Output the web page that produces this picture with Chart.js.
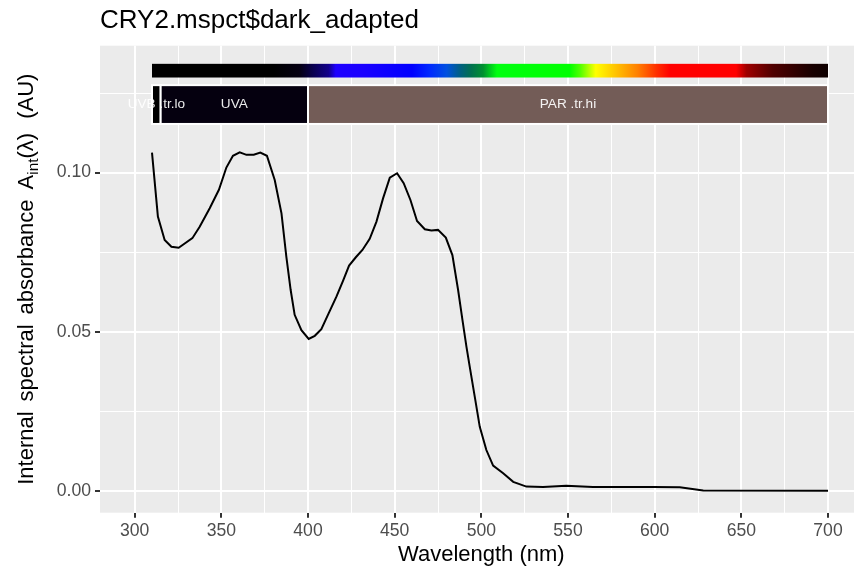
<!DOCTYPE html>
<html lang="en">
<head>
<meta charset="UTF-8">
<title>CRY2.mspct$dark_adapted</title>
<script src="https://cdn.jsdelivr.net/npm/chart.js"></script>
<style>
  html, body { margin: 0; padding: 0; background: #fff; overflow: hidden; }
  #wrap { width: 854px; height: 571px; }
</style>
</head>
<body>
<div id="wrap"><canvas id="chart" width="854" height="571"></canvas></div>
<script>
// spectrum
const wavelengths = [310, 313.4, 317.3, 321.2, 325.4, 333.3, 337.5, 343.3, 348.6, 352.9,
  356.7, 360.6, 364.5, 368.7, 372.5, 376.3, 380.8, 384.7, 387.5, 390.0,
  392.3, 396.2, 400.4, 403.9, 407.7, 411.5, 416.4, 420.2, 423.7, 427.6,
  431.4, 435.6, 439.5, 443.3, 447.2, 451.4, 455.2, 459.1, 462.9, 467.4,
  471.2, 475.0, 479.5, 483.3, 486.6, 489.1, 491.4, 493.3, 496.2, 499.1,
  502.9, 506.8, 512.6, 518.4, 526.0, 535.6, 549.0, 564.4, 599.0, 614.5,
  628.0, 700];
const absorbance = [0.1063, 0.0862, 0.0788, 0.0767, 0.0764, 0.0794, 0.0830, 0.0888, 0.0946, 0.1016,
  0.1053, 0.1064, 0.1056, 0.1056, 0.1063, 0.1053, 0.0977, 0.0872, 0.0736, 0.0631,
  0.0553, 0.0505, 0.0477, 0.0487, 0.0508, 0.0553, 0.0610, 0.0660, 0.0708, 0.0734,
  0.0757, 0.0792, 0.0846, 0.0919, 0.0984, 0.0998, 0.0967, 0.0914, 0.0848, 0.0822,
  0.0818, 0.0820, 0.0796, 0.0741, 0.0631, 0.0537, 0.0453, 0.0390, 0.0296, 0.0201,
  0.0128, 0.0079, 0.0055, 0.0028, 0.0013, 0.0012, 0.0016, 0.0012, 0.0012, 0.0011,
  0.0001, 0.0000];

const xMajorTicks = [300, 350, 400, 450, 500, 550, 600, 650, 700];
const xMinorTicks = [325, 375, 425, 475, 525, 575, 625, 675];
const yMajorTicks = [0, 0.05, 0.10];
const yMinorTicks = [0.025, 0.075, 0.125];

// waveband annotation
const bandNames = ['UVB .tr.lo', 'UVA', 'PAR .tr.hi'];
const bandStart = [310, 315, 400];
const bandEnd = [315, 400, 700];
const bandColors = ['#000000', '#05000F', '#735C57'];

// colours of the rainbow strip
const stripWl = [310, 380, 395, 403, 412, 416, 432, 460, 470, 480, 488, 494, 501, 509,
  551, 557, 566, 578, 590, 601, 609, 647, 653, 668, 691, 700];
const stripColors = ['#000000', '#000000', '#050012', '#0A0050', '#12008C', '#1E00FF', '#1A00FF',
  '#0000FF', '#0028FF', '#0050E0', '#006080', '#007050', '#009030', '#00FF10',
  '#00FF00', '#50FF00', '#FFFF00', '#FFC000', '#FF8000', '#FF3000', '#FF0000',
  '#FF0000', '#A00000', '#500000', '#180000', '#0E0000'];

const FONT = "'Liberation Sans', Arial, sans-serif";
const near = (arr, v) => arr.some(m => Math.abs(m - v) < 1e-9);

const decor = {
  id: 'decor',
  beforeDraw(chart) {
    const a = chart.chartArea, c = chart.ctx;
    c.save();
    c.fillStyle = '#EBEBEB';
    c.fillRect(a.left, a.top, a.right - a.left, a.bottom - a.top);
    c.restore();
  },
  afterDraw(chart) {
    const c = chart.ctx, xs = chart.scales.x, ys = chart.scales.y, a = chart.chartArea;
    c.save();

    // rainbow strip
    const x0 = xs.getPixelForValue(310), x1 = xs.getPixelForValue(700);
    const sTop = ys.getPixelForValue(0.1342), sBot = ys.getPixelForValue(0.1299);
    const g = c.createLinearGradient(x0, 0, x1, 0);
    stripWl.forEach((w, i) => g.addColorStop((w - 310) / 390, stripColors[i]));
    c.fillStyle = g;
    c.fillRect(x0, sTop, x1 - x0, sBot - sTop);

    // wavebands
    const bTop = ys.getPixelForValue(0.1275), bBot = ys.getPixelForValue(0.1153);
    c.lineWidth = 2;
    c.strokeStyle = '#FFFFFF';
    bandNames.forEach((n, i) => {
      const l = xs.getPixelForValue(bandStart[i]), r = xs.getPixelForValue(bandEnd[i]);
      c.fillStyle = bandColors[i];
      c.fillRect(l, bTop, r - l, bBot - bTop);
      c.strokeRect(l, bTop, r - l, bBot - bTop);
    });
    c.font = '13.6px ' + FONT;
    c.fillStyle = 'rgba(255,255,255,0.92)';
    c.textAlign = 'center';
    c.textBaseline = 'middle';
    bandNames.forEach((n, i) => {
      const m = xs.getPixelForValue((bandStart[i] + bandEnd[i]) / 2);
      c.fillText(n, m, (bTop + bBot) / 2);
    });

    // title
    c.fillStyle = '#000000';
    c.textAlign = 'left';
    c.textBaseline = 'alphabetic';
    c.font = '26px ' + FONT;
    c.fillText('CRY2.mspct$dark_adapted', 100, 28);

    // x title
    c.font = '22px ' + FONT;
    c.textAlign = 'center';
    c.fillText('Wavelength (nm)', xs.getPixelForValue(500), 561);

    // y title with subscript
    const big = '22px ' + FONT, small = '15.4px ' + FONT;
    const parts = [
      ['Internal', big, 0, 10], ['spectral', big, 0, 10], ['absorbance', big, 0, 10],
      ['A', big, 0, 0], ['int', small, 5, 0], ['(\u03BB)', big, 0, 14], ['(AU)', big, 0, 0]
    ];
    let total = 0;
    parts.forEach(p => { c.font = p[1]; total += c.measureText(p[0]).width + p[3]; });
    c.translate(33, (a.top + a.bottom) / 2);
    c.rotate(-Math.PI / 2);
    c.textAlign = 'left';
    let px = -total / 2;
    parts.forEach(p => {
      c.font = p[1];
      c.fillText(p[0], px, p[2]);
      px += c.measureText(p[0]).width + p[3];
    });
    c.restore();
  }
};

const tickFont = { family: FONT, size: 17.6 };

new Chart(document.getElementById('chart').getContext('2d'), {
  type: 'line',
  data: {
    datasets: [{
      data: wavelengths.map((w, i) => ({ x: w, y: absorbance[i] })),
      borderColor: '#000000',
      borderWidth: 2,
      pointRadius: 0,
      tension: 0,
      fill: false
    }]
  },
  options: {
    responsive: false,
    animation: false,
    layout: { padding: { top: 45.7, right: 0, bottom: 0, left: 0 } },
    plugins: { legend: { display: false }, tooltip: { enabled: false } },
    scales: {
      x: {
        type: 'linear',
        min: 280,
        max: 715,
        afterBuildTicks: s => { s.ticks = [...xMajorTicks, ...xMinorTicks].sort((p, q) => p - q).map(v => ({ value: v })); },
        afterFit: s => { s.height = 58.3; },
        border: { display: false },
        grid: {
          color: '#FFFFFF',
          lineWidth: c => near(xMajorTicks, c.tick.value) ? 2 : 1,
          tickColor: c => near(xMajorTicks, c.tick.value) ? '#333333' : 'rgba(0,0,0,0)',
          tickLength: 5,
          tickWidth: 2
        },
        ticks: {
          autoSkip: false,
          maxRotation: 0,
          padding: 3,
          color: '#4D4D4D',
          font: tickFont,
          callback: v => near(xMajorTicks, v) ? String(v) : ''
        }
      },
      y: {
        min: -0.0069,
        max: 0.1399,
        afterBuildTicks: s => { s.ticks = [...yMajorTicks, ...yMinorTicks].sort((p, q) => p - q).map(v => ({ value: v })); },
        afterFit: s => { s.width = 100; },
        border: { display: false },
        grid: {
          color: '#FFFFFF',
          lineWidth: c => near(yMajorTicks, c.tick.value) ? 2 : 1,
          tickColor: c => near(yMajorTicks, c.tick.value) ? '#333333' : 'rgba(0,0,0,0)',
          tickLength: 5,
          tickWidth: 2
        },
        ticks: {
          autoSkip: false,
          padding: 4,
          color: '#4D4D4D',
          font: tickFont,
          callback: v => near(yMajorTicks, v) ? v.toFixed(2) : ''
        }
      }
    }
  },
  plugins: [decor]
});
</script>
</body>
</html>
